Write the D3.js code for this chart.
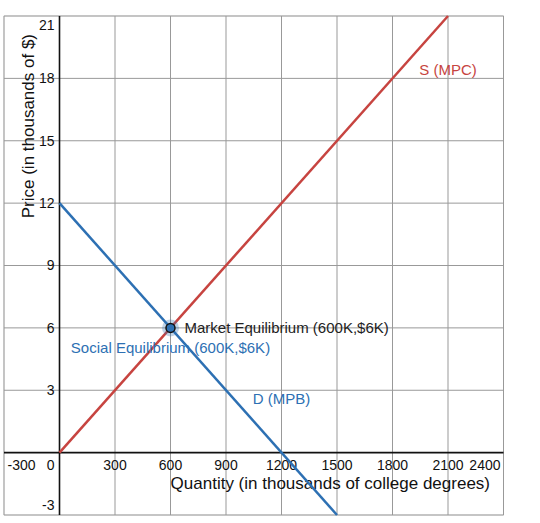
<!DOCTYPE html>
<html>
<head>
<meta charset="utf-8">
<script src="https://cdn.jsdelivr.net/npm/d3@7"></script>
<style>
  body { margin: 0; background: #fff; }
  text { font-family: "Liberation Sans", Arial, sans-serif; }
</style>
</head>
<body>
<svg id="chart" width="540" height="523"></svg>
<script>
// tick values
const xTicks = [-300, 0, 300, 600, 900, 1200, 1500, 1800, 2100, 2400];
const yTicks = [-3, 0, 3, 6, 9, 12, 15, 18, 21];

// curves (quantity in thousands, price in thousands of $)
const supplyQ = [0, 2100];
const supplyP = [0, 21];
const demandQ = [0, 1500];
const demandP = [12, -3];

// equilibrium point
const eqQ = 600;
const eqP = 6;

const red = "#c74440";
const blue = "#2d70b3";

const box = {left: 4, right: 503.5, top: 16, bottom: 515};

const x = d3.scaleLinear().domain([-300, 2400]).range([box.left, box.right]);
const y = d3.scaleLinear().domain([-3, 21]).range([box.bottom, box.top]);

const svg = d3.select("#chart");

// frame
svg.append("rect")
    .attr("x", box.left).attr("y", box.top)
    .attr("width", box.right - box.left).attr("height", box.bottom - box.top)
    .attr("fill", "none").attr("stroke", "#e2e2e2");

// grid
const grid = svg.append("g").attr("stroke", "#999").attr("stroke-width", 1);
grid.selectAll(".vx").data(xTicks.filter(d => d !== 0)).join("line")
    .attr("x1", d => x(d)).attr("x2", d => x(d))
    .attr("y1", box.top).attr("y2", box.bottom);
grid.selectAll(".hy").data(yTicks.filter(d => d !== 0)).join("line")
    .attr("x1", box.left).attr("x2", box.right)
    .attr("y1", d => y(d)).attr("y2", d => y(d));

// axes
svg.append("line")
    .attr("x1", box.left).attr("x2", box.right)
    .attr("y1", y(0)).attr("y2", y(0))
    .attr("stroke", "#111").attr("stroke-width", 1.6);
svg.append("line")
    .attr("x1", x(0)).attr("x2", x(0))
    .attr("y1", box.top).attr("y2", box.bottom)
    .attr("stroke", "#111").attr("stroke-width", 1.6);

// tick labels
const tickFont = 14;
const firstX = xTicks[0], lastX = xTicks[xTicks.length - 1];
svg.append("g").selectAll("text").data(xTicks).join("text")
    .attr("font-size", tickFont)
    .attr("fill", "#111")
    .attr("y", y(0) + 17)
    .attr("x", d => d === 0 ? x(0) - 5 : d === firstX ? box.left + 3.5 : d === lastX ? box.right - 3 : x(d))
    .attr("text-anchor", d => d === 0 ? "end" : d === firstX ? "start" : d === lastX ? "end" : "middle")
    .text(d => d);

svg.append("g").selectAll("text").data(yTicks.filter(d => d !== 0)).join("text")
    .attr("font-size", tickFont)
    .attr("fill", "#111")
    .attr("x", x(0) - 5)
    .attr("y", d => Math.min(Math.max(y(d), box.top + 9), box.bottom - 10))
    .attr("dy", "0.35em")
    .attr("text-anchor", "end")
    .text(d => d);

// axis titles
svg.append("text")
    .attr("font-size", 17).attr("fill", "#111")
    .attr("x", 490).attr("y", 489)
    .attr("text-anchor", "end")
    .text("Quantity (in thousands of college degrees)");

svg.append("text")
    .attr("font-size", 17).attr("fill", "#111")
    .attr("transform", "translate(34,34) rotate(-90)")
    .attr("text-anchor", "end")
    .text("Price (in thousands of $)");

// curves
const line = d3.line().x(d => x(d[0])).y(d => y(d[1]));
svg.append("path")
    .attr("d", line(d3.zip(supplyQ, supplyP)))
    .attr("fill", "none").attr("stroke", red).attr("stroke-width", 2.5);
svg.append("path")
    .attr("d", line(d3.zip(demandQ, demandP)))
    .attr("fill", "none").attr("stroke", blue).attr("stroke-width", 2.5);

// curve labels
svg.append("text")
    .attr("font-size", 15).attr("fill", red)
    .attr("x", x(2100)).attr("y", y(18) - 3)
    .attr("text-anchor", "middle")
    .text("S (MPC)");
svg.append("text")
    .attr("font-size", 15).attr("fill", blue)
    .attr("x", x(1200)).attr("y", y(3) + 14)
    .attr("text-anchor", "middle")
    .text("D (MPB)");

// equilibrium
svg.append("circle")
    .attr("cx", x(eqQ)).attr("cy", y(eqP)).attr("r", 8.5)
    .attr("fill", blue).attr("fill-opacity", 0.3);
svg.append("circle")
    .attr("cx", x(eqQ)).attr("cy", y(eqP)).attr("r", 4.5)
    .attr("fill", blue).attr("stroke", "#111").attr("stroke-width", 1.5);

svg.append("text")
    .attr("font-size", 15).attr("fill", "#222")
    .attr("x", x(eqQ) + 14).attr("y", y(eqP) + 5)
    .text("Market Equilibrium (600K,$6K)");
svg.append("text")
    .attr("font-size", 15).attr("fill", blue)
    .attr("x", x(eqQ)).attr("y", y(eqP) + 25)
    .attr("text-anchor", "middle")
    .text("Social Equilibrium (600K,$6K)");
</script>
</body>
</html>
